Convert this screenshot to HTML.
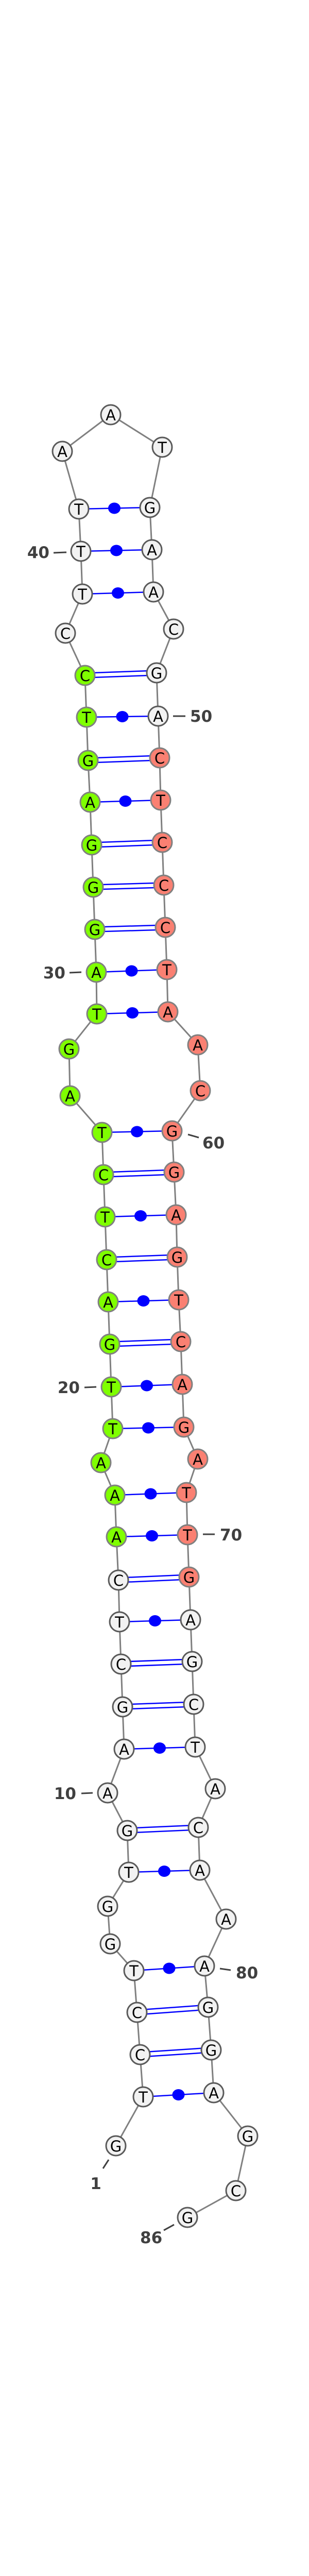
<!DOCTYPE html>
<html><head><meta charset="utf-8"><style>
html,body{margin:0;padding:0;background:#fff;width:600px;height:5127px;overflow:hidden;}
svg{display:block;}
.n text{font-family:"DejaVu Sans","Liberation Sans",sans-serif;font-size:29px;text-anchor:middle;dominant-baseline:central;fill:#000;}
.w{fill:#f2f2f2;stroke:#5a5a5a;stroke-width:3;}
.g{fill:#7fff00;stroke:#808080;stroke-width:3;}
.r{fill:#fa8072;stroke:#808080;stroke-width:3;}
.b{stroke:#0000ff;stroke-width:2.5;}
.lbl{font-family:"DejaVu Sans","Liberation Sans",sans-serif;font-size:31px;font-weight:bold;fill:#404040;}
.tk{stroke:#404040;stroke-width:3;}
</style></head><body>
<svg width="600" height="5127" viewBox="0 0 600 5127" xmlns="http://www.w3.org/2000/svg">
<polyline fill="none" stroke="#808080" stroke-width="3" points="225,4165 278,4070 272,3988 266,3906 260,3825 214,3773 209,3700 250,3634 247,3553 209,3480 241,3395 238,3313 235,3230 232,3148 230,3067 226,2983 223,2902 196,2839 219,2773 216,2692 213,2609 210,2527 207,2445 204,2362 201,2280 198,2198 136,2127 134,2036 188,1968 187,1887 184,1804 181,1722 178,1640 175,1557 171,1476 168,1392 165,1311 127,1229 160,1153 157,1070 153,988 121,876 215,805 315,868 291,985 295,1067 298,1149 337,1221 304,1306 307,1390 310,1471 312,1553 315,1635 318,1718 321,1800 324,1882 326,1964 384,2028 389,2117 334,2195 338,2275 342,2358 344,2440 347,2523 351,2604 354,2687 357,2770 384,2832 362,2897 364,2979 367,3061 370,3144 373,3225 376,3308 379,3391 418,3472 385,3547 388,3630 439,3725 397,3816 404,3896 410,3979 415,4062 481,4146 458,4252 364,4304"/>
<g class="b">
<line x1="278" y1="4070" x2="415" y2="4062"/>
<line x1="260" y1="3825" x2="397" y2="3816"/>
<line x1="250" y1="3634" x2="388" y2="3630"/>
<line x1="241" y1="3395" x2="379" y2="3391"/>
<line x1="232" y1="3148" x2="370" y2="3144"/>
<line x1="226" y1="2983" x2="364" y2="2979"/>
<line x1="223" y1="2902" x2="362" y2="2897"/>
<line x1="219" y1="2773" x2="357" y2="2770"/>
<line x1="216" y1="2692" x2="354" y2="2687"/>
<line x1="210" y1="2527" x2="347" y2="2523"/>
<line x1="204" y1="2362" x2="342" y2="2358"/>
<line x1="198" y1="2198" x2="334" y2="2195"/>
<line x1="188" y1="1968" x2="326" y2="1964"/>
<line x1="187" y1="1887" x2="324" y2="1882"/>
<line x1="175" y1="1557" x2="312" y2="1553"/>
<line x1="168" y1="1392" x2="307" y2="1390"/>
<line x1="160" y1="1153" x2="298" y2="1149"/>
<line x1="157" y1="1070" x2="295" y2="1067"/>
<line x1="153" y1="988" x2="291" y2="985"/>
<line x1="272" y1="3983.5" x2="410" y2="3974.5"/><line x1="272" y1="3992.5" x2="410" y2="3983.5"/>
<line x1="266" y1="3901.5" x2="404" y2="3891.5"/><line x1="266" y1="3910.5" x2="404" y2="3900.5"/>
<line x1="247" y1="3548.5" x2="385" y2="3542.5"/><line x1="247" y1="3557.5" x2="385" y2="3551.5"/>
<line x1="238" y1="3308.5" x2="376" y2="3303.5"/><line x1="238" y1="3317.5" x2="376" y2="3312.5"/>
<line x1="235" y1="3225.5" x2="373" y2="3220.5"/><line x1="235" y1="3234.5" x2="373" y2="3229.5"/>
<line x1="230" y1="3062.5" x2="367" y2="3056.5"/><line x1="230" y1="3071.5" x2="367" y2="3065.5"/>
<line x1="213" y1="2604.5" x2="351" y2="2599.5"/><line x1="213" y1="2613.5" x2="351" y2="2608.5"/>
<line x1="207" y1="2440.5" x2="344" y2="2435.5"/><line x1="207" y1="2449.5" x2="344" y2="2444.5"/>
<line x1="201" y1="2275.5" x2="338" y2="2270.5"/><line x1="201" y1="2284.5" x2="338" y2="2279.5"/>
<line x1="184" y1="1799.5" x2="321" y2="1795.5"/><line x1="184" y1="1808.5" x2="321" y2="1804.5"/>
<line x1="181" y1="1717.5" x2="318" y2="1713.5"/><line x1="181" y1="1726.5" x2="318" y2="1722.5"/>
<line x1="178" y1="1635.5" x2="315" y2="1630.5"/><line x1="178" y1="1644.5" x2="315" y2="1639.5"/>
<line x1="171" y1="1471.5" x2="310" y2="1466.5"/><line x1="171" y1="1480.5" x2="310" y2="1475.5"/>
<line x1="165" y1="1306.5" x2="304" y2="1301.5"/><line x1="165" y1="1315.5" x2="304" y2="1310.5"/>
</g>
<g fill="#0000ff">
<ellipse cx="346.5" cy="4066" rx="12" ry="11"/>
<ellipse cx="328.5" cy="3820.5" rx="12" ry="11"/>
<ellipse cx="319" cy="3632" rx="12" ry="11"/>
<ellipse cx="310" cy="3393" rx="12" ry="11"/>
<ellipse cx="301" cy="3146" rx="12" ry="11"/>
<ellipse cx="295" cy="2981" rx="12" ry="11"/>
<ellipse cx="292.5" cy="2899.5" rx="12" ry="11"/>
<ellipse cx="288" cy="2771.5" rx="12" ry="11"/>
<ellipse cx="285" cy="2689.5" rx="12" ry="11"/>
<ellipse cx="278.5" cy="2525" rx="12" ry="11"/>
<ellipse cx="273" cy="2360" rx="12" ry="11"/>
<ellipse cx="266" cy="2196.5" rx="12" ry="11"/>
<ellipse cx="257" cy="1966" rx="12" ry="11"/>
<ellipse cx="255.5" cy="1884.5" rx="12" ry="11"/>
<ellipse cx="243.5" cy="1555" rx="12" ry="11"/>
<ellipse cx="237.5" cy="1391" rx="12" ry="11"/>
<ellipse cx="229" cy="1151" rx="12" ry="11"/>
<ellipse cx="226" cy="1068.5" rx="12" ry="11"/>
<ellipse cx="222" cy="986.5" rx="12" ry="11"/>
</g>
<g class="n">
<circle class="w" cx="225" cy="4165" r="19"/><text x="225" y="4166">G</text>
<circle class="w" cx="278" cy="4070" r="19"/><text x="278" y="4071">T</text>
<circle class="w" cx="272" cy="3988" r="19"/><text x="272" y="3989">C</text>
<circle class="w" cx="266" cy="3906" r="19"/><text x="266" y="3907">C</text>
<circle class="w" cx="260" cy="3825" r="19"/><text x="260" y="3826">T</text>
<circle class="w" cx="214" cy="3773" r="19"/><text x="214" y="3774">G</text>
<circle class="w" cx="209" cy="3700" r="19"/><text x="209" y="3701">G</text>
<circle class="w" cx="250" cy="3634" r="19"/><text x="250" y="3635">T</text>
<circle class="w" cx="247" cy="3553" r="19"/><text x="247" y="3554">G</text>
<circle class="w" cx="209" cy="3480" r="19"/><text x="209" y="3481">A</text>
<circle class="w" cx="241" cy="3395" r="19"/><text x="241" y="3396">A</text>
<circle class="w" cx="238" cy="3313" r="19"/><text x="238" y="3314">G</text>
<circle class="w" cx="235" cy="3230" r="19"/><text x="235" y="3231">C</text>
<circle class="w" cx="232" cy="3148" r="19"/><text x="232" y="3149">T</text>
<circle class="w" cx="230" cy="3067" r="19"/><text x="230" y="3068">C</text>
<circle class="g" cx="226" cy="2983" r="19"/><text x="226" y="2984">A</text>
<circle class="g" cx="223" cy="2902" r="19"/><text x="223" y="2903">A</text>
<circle class="g" cx="196" cy="2839" r="19"/><text x="196" y="2840">A</text>
<circle class="g" cx="219" cy="2773" r="19"/><text x="219" y="2774">T</text>
<circle class="g" cx="216" cy="2692" r="19"/><text x="216" y="2693">T</text>
<circle class="g" cx="213" cy="2609" r="19"/><text x="213" y="2610">G</text>
<circle class="g" cx="210" cy="2527" r="19"/><text x="210" y="2528">A</text>
<circle class="g" cx="207" cy="2445" r="19"/><text x="207" y="2446">C</text>
<circle class="g" cx="204" cy="2362" r="19"/><text x="204" y="2363">T</text>
<circle class="g" cx="201" cy="2280" r="19"/><text x="201" y="2281">C</text>
<circle class="g" cx="198" cy="2198" r="19"/><text x="198" y="2199">T</text>
<circle class="g" cx="136" cy="2127" r="19"/><text x="136" y="2128">A</text>
<circle class="g" cx="134" cy="2036" r="19"/><text x="134" y="2037">G</text>
<circle class="g" cx="188" cy="1968" r="19"/><text x="188" y="1969">T</text>
<circle class="g" cx="187" cy="1887" r="19"/><text x="187" y="1888">A</text>
<circle class="g" cx="184" cy="1804" r="19"/><text x="184" y="1805">G</text>
<circle class="g" cx="181" cy="1722" r="19"/><text x="181" y="1723">G</text>
<circle class="g" cx="178" cy="1640" r="19"/><text x="178" y="1641">G</text>
<circle class="g" cx="175" cy="1557" r="19"/><text x="175" y="1558">A</text>
<circle class="g" cx="171" cy="1476" r="19"/><text x="171" y="1477">G</text>
<circle class="g" cx="168" cy="1392" r="19"/><text x="168" y="1393">T</text>
<circle class="g" cx="165" cy="1311" r="19"/><text x="165" y="1312">C</text>
<circle class="w" cx="127" cy="1229" r="19"/><text x="127" y="1230">C</text>
<circle class="w" cx="160" cy="1153" r="19"/><text x="160" y="1154">T</text>
<circle class="w" cx="157" cy="1070" r="19"/><text x="157" y="1071">T</text>
<circle class="w" cx="153" cy="988" r="19"/><text x="153" y="989">T</text>
<circle class="w" cx="121" cy="876" r="19"/><text x="121" y="877">A</text>
<circle class="w" cx="215" cy="805" r="19"/><text x="215" y="806">A</text>
<circle class="w" cx="315" cy="868" r="19"/><text x="315" y="869">T</text>
<circle class="w" cx="291" cy="985" r="19"/><text x="291" y="986">G</text>
<circle class="w" cx="295" cy="1067" r="19"/><text x="295" y="1068">A</text>
<circle class="w" cx="298" cy="1149" r="19"/><text x="298" y="1150">A</text>
<circle class="w" cx="337" cy="1221" r="19"/><text x="337" y="1222">C</text>
<circle class="w" cx="304" cy="1306" r="19"/><text x="304" y="1307">G</text>
<circle class="w" cx="307" cy="1390" r="19"/><text x="307" y="1391">A</text>
<circle class="r" cx="310" cy="1471" r="19"/><text x="310" y="1472">C</text>
<circle class="r" cx="312" cy="1553" r="19"/><text x="312" y="1554">T</text>
<circle class="r" cx="315" cy="1635" r="19"/><text x="315" y="1636">C</text>
<circle class="r" cx="318" cy="1718" r="19"/><text x="318" y="1719">C</text>
<circle class="r" cx="321" cy="1800" r="19"/><text x="321" y="1801">C</text>
<circle class="r" cx="324" cy="1882" r="19"/><text x="324" y="1883">T</text>
<circle class="r" cx="326" cy="1964" r="19"/><text x="326" y="1965">A</text>
<circle class="r" cx="384" cy="2028" r="19"/><text x="384" y="2029">A</text>
<circle class="r" cx="389" cy="2117" r="19"/><text x="389" y="2118">C</text>
<circle class="r" cx="334" cy="2195" r="19"/><text x="334" y="2196">G</text>
<circle class="r" cx="338" cy="2275" r="19"/><text x="338" y="2276">G</text>
<circle class="r" cx="342" cy="2358" r="19"/><text x="342" y="2359">A</text>
<circle class="r" cx="344" cy="2440" r="19"/><text x="344" y="2441">G</text>
<circle class="r" cx="347" cy="2523" r="19"/><text x="347" y="2524">T</text>
<circle class="r" cx="351" cy="2604" r="19"/><text x="351" y="2605">C</text>
<circle class="r" cx="354" cy="2687" r="19"/><text x="354" y="2688">A</text>
<circle class="r" cx="357" cy="2770" r="19"/><text x="357" y="2771">G</text>
<circle class="r" cx="384" cy="2832" r="19"/><text x="384" y="2833">A</text>
<circle class="r" cx="362" cy="2897" r="19"/><text x="362" y="2898">T</text>
<circle class="r" cx="364" cy="2979" r="19"/><text x="364" y="2980">T</text>
<circle class="r" cx="367" cy="3061" r="19"/><text x="367" y="3062">G</text>
<circle class="w" cx="370" cy="3144" r="19"/><text x="370" y="3145">A</text>
<circle class="w" cx="373" cy="3225" r="19"/><text x="373" y="3226">G</text>
<circle class="w" cx="376" cy="3308" r="19"/><text x="376" y="3309">C</text>
<circle class="w" cx="379" cy="3391" r="19"/><text x="379" y="3392">T</text>
<circle class="w" cx="418" cy="3472" r="19"/><text x="418" y="3473">A</text>
<circle class="w" cx="385" cy="3547" r="19"/><text x="385" y="3548">C</text>
<circle class="w" cx="388" cy="3630" r="19"/><text x="388" y="3631">A</text>
<circle class="w" cx="439" cy="3725" r="19"/><text x="439" y="3726">A</text>
<circle class="w" cx="397" cy="3816" r="19"/><text x="397" y="3817">A</text>
<circle class="w" cx="404" cy="3896" r="19"/><text x="404" y="3897">G</text>
<circle class="w" cx="410" cy="3979" r="19"/><text x="410" y="3980">G</text>
<circle class="w" cx="415" cy="4062" r="19"/><text x="415" y="4063">A</text>
<circle class="w" cx="481" cy="4146" r="19"/><text x="481" y="4147">G</text>
<circle class="w" cx="458" cy="4252" r="19"/><text x="458" y="4253">C</text>
<circle class="w" cx="364" cy="4304" r="19"/><text x="364" y="4305">G</text>
</g>
<g>
<line class="tk" x1="211" y1="4192" x2="200" y2="4209"/>
<text class="lbl" x="186" y="4249" text-anchor="middle">1</text>
<line class="tk" x1="158" y1="3481" x2="180" y2="3480"/>
<text class="lbl" x="148" y="3492" text-anchor="end">10</text>
<line class="tk" x1="164" y1="2693" x2="187" y2="2692"/>
<text class="lbl" x="155" y="2704" text-anchor="end">20</text>
<line class="tk" x1="135" y1="1888" x2="158" y2="1887"/>
<text class="lbl" x="127" y="1899" text-anchor="end">30</text>
<line class="tk" x1="104" y1="1073" x2="129" y2="1072"/>
<text class="lbl" x="96" y="1083" text-anchor="end">40</text>
<line class="tk" x1="336" y1="1390" x2="360" y2="1390"/>
<text class="lbl" x="369" y="1401">50</text>
<line class="tk" x1="365" y1="2202" x2="386" y2="2208"/>
<text class="lbl" x="393" y="2229">60</text>
<line class="tk" x1="394" y1="2978" x2="417" y2="2978"/>
<text class="lbl" x="427" y="2990">70</text>
<line class="tk" x1="427" y1="3821" x2="448" y2="3824"/>
<text class="lbl" x="458" y="3840">80</text>
<line class="tk" x1="338" y1="4318" x2="318" y2="4329"/>
<text class="lbl" x="272" y="4354">86</text>
</g>
<text x="300" y="5121" text-anchor="middle" font-family="'DejaVu Sans','Liberation Sans',sans-serif" font-size="11" font-weight="bold" fill="#000">dya_11_annot [-43.8]</text>
</svg>
</body></html>
